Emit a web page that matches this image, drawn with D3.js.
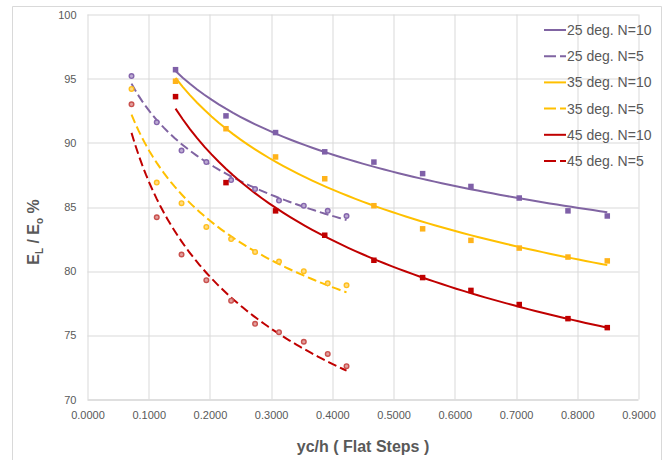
<!DOCTYPE html>
<html>
<head>
<meta charset="utf-8">
<script src="https://cdn.jsdelivr.net/npm/d3@7"></script>
<style>
  body { margin: 0; background: #fff; }
  text { font-family: "Liberation Sans", Arial, sans-serif; }
</style>
</head>
<body>
<div id="chart"></div>
<script>
// data
var xN10 = [0.1438, 0.2262, 0.3072, 0.3875, 0.4678, 0.5474, 0.6263, 0.7052, 0.7848, 0.8490];
var xN5  = [0.0719, 0.1131, 0.1536, 0.1941, 0.2346, 0.2737, 0.3128, 0.3533, 0.3924, 0.4231];

var deg25N10 = [95.7, 92.1, 90.8, 89.3, 88.5, 87.6, 86.6, 85.7, 84.7, 84.3];
var deg25N5  = [95.2, 91.6, 89.4, 88.5, 87.1, 86.4, 85.5, 85.1, 84.7, 84.3];
var deg35N10 = [94.8, 91.1, 88.9, 87.2, 85.1, 83.3, 82.4, 81.8, 81.1, 80.8];
var deg35N5  = [94.2, 86.9, 85.3, 83.45, 82.5, 81.5, 80.75, 80.0, 79.05, 78.9];
var deg45N10 = [93.6, 86.9, 84.7, 82.8, 80.85, 79.5, 78.5, 77.4, 76.3, 75.6];
var deg45N5  = [93.0, 84.2, 81.3, 79.3, 77.7, 75.9, 75.25, 74.5, 73.55, 72.6];

var seriesNames = ["25 deg. N=10", "25 deg. N=5", "35 deg. N=10", "35 deg. N=5", "45 deg. N=10", "45 deg. N=5"];

var xTicks = [0, 0.1, 0.2, 0.3, 0.4, 0.5, 0.6, 0.7, 0.8, 0.9];
var yTicks = [70, 75, 80, 85, 90, 95, 100];

// styles
var series = [
  { name: seriesNames[0], xs: xN10, ys: deg25N10, line: "#8064a2", mark: "#7f60a8", dash: null, shape: "square" },
  { name: seriesNames[1], xs: xN5,  ys: deg25N5,  line: "#8064a2", mark: "#8566ad", dash: "9,4", shape: "circle" },
  { name: seriesNames[2], xs: xN10, ys: deg35N10, line: "#ffc000", mark: "#ffb31a", dash: null, shape: "square" },
  { name: seriesNames[3], xs: xN5,  ys: deg35N5,  line: "#ffc000", mark: "#ffbf1f", dash: "9,4", shape: "circle" },
  { name: seriesNames[4], xs: xN10, ys: deg45N10, line: "#c00000", mark: "#c00000", dash: null, shape: "square" },
  { name: seriesNames[5], xs: xN5,  ys: deg45N5,  line: "#c00000", mark: "#c9504d", dash: "9,4", shape: "circle" }
];

var W = 670, H = 460;
var margin = { top: 14.5, right: 31.5, bottom: 60.5, left: 87.5 };
var width = W - margin.left - margin.right;
var height = H - margin.top - margin.bottom;

var svg = d3.select("#chart").append("svg")
    .attr("width", W)
    .attr("height", H);

// outer chart border
svg.append("path")
  .attr("d", "M12.5," + H + " L12.5,6.5 L661.5,6.5 L661.5," + H)
  .attr("fill", "none")
  .attr("stroke", "#d9d9d9")
  .attr("stroke-width", 1);

var g = svg.append("g")
  .attr("transform", "translate(" + margin.left + "," + margin.top + ")");

var x = d3.scaleLinear().domain([0, 0.9]).range([0, width]);
var y = d3.scaleLinear().domain([70, 100]).range([height, 0]);

// gridlines
g.selectAll(".hgrid")
  .data(yTicks)
  .enter().append("line")
  .attr("x1", 0).attr("x2", width)
  .attr("y1", function(d) { return Math.round(y(d)) + 0.5; })
  .attr("y2", function(d) { return Math.round(y(d)) + 0.5; })
  .attr("stroke", function(d) { return d == 70 ? "#bfbfbf" : "#d9d9d9"; })
  .attr("stroke-width", 1);

g.selectAll(".vgrid")
  .data(xTicks)
  .enter().append("line")
  .attr("y1", 0).attr("y2", height)
  .attr("x1", function(d) { return Math.round(x(d)) + 0.5; })
  .attr("x2", function(d) { return Math.round(x(d)) + 0.5; })
  .attr("stroke", "#d9d9d9")
  .attr("stroke-width", 1);

// axes (labels only, excel style)
var xAxis = d3.axisBottom(x).tickValues(xTicks).tickSize(0).tickPadding(12)
  .tickFormat(d3.format(".4f"));
var yAxis = d3.axisLeft(y).tickValues(yTicks).tickSize(0).tickPadding(11)
  .tickFormat(d3.format("d"));

var gx = g.append("g").attr("transform", "translate(0," + height + ")").call(xAxis);
var gy = g.append("g").call(yAxis);
[gx, gy].forEach(function(a) {
  a.select(".domain").remove();
  a.selectAll("text")
    .attr("fill", "#595959")
    .style("font-size", "11px")
    .style("font-family", "'Liberation Sans', Arial, sans-serif");
});

// power trendline: ln y = ln a + b ln x
function powerFit(xs, ys) {
  var lx = xs.map(Math.log), ly = ys.map(Math.log);
  var mx = d3.mean(lx), my = d3.mean(ly);
  var sxy = d3.sum(lx, function(v, i) { return (v - mx) * (ly[i] - my); });
  var sxx = d3.sum(lx, function(v) { return (v - mx) * (v - mx); });
  var b = sxy / sxx;
  var a = Math.exp(my - b * mx);
  return function(v) { return a * Math.pow(v, b); };
}

var line = d3.line()
  .x(function(d) { return x(d[0]); })
  .y(function(d) { return y(d[1]); });

series.forEach(function(s) {
  var f = powerFit(s.xs, s.ys);
  var lo = d3.min(s.xs), hi = d3.max(s.xs);
  var pts = d3.range(0, 61).map(function(i) {
    var v = lo + (hi - lo) * i / 60;
    return [v, f(v)];
  });
  g.append("path")
    .datum(pts)
    .attr("d", line)
    .attr("fill", "none")
    .attr("stroke", s.line)
    .attr("stroke-width", 2)
    .attr("stroke-dasharray", s.dash);
});

// markers on top
series.forEach(function(s) {
  var pts = s.xs.map(function(v, i) { return [v, s.ys[i]]; });
  if (s.shape == "square") {
    g.selectAll(null)
      .data(pts)
      .enter().append("rect")
      .attr("x", function(d) { return x(d[0]) - 2.75; })
      .attr("y", function(d) { return y(d[1]) - 2.75; })
      .attr("width", 5.5)
      .attr("height", 5.5)
      .attr("fill", s.mark);
  } else {
    g.selectAll(null)
      .data(pts)
      .enter().append("circle")
      .attr("cx", function(d) { return x(d[0]); })
      .attr("cy", function(d) { return y(d[1]); })
      .attr("r", 2.3)
      .attr("fill", d3.interpolateRgb(s.mark, "#fff")(0.45))
      .attr("stroke", s.mark)
      .attr("stroke-width", 1.4);
  }
});

// axis titles
svg.append("text")
  .attr("x", margin.left + width / 2)
  .attr("y", 452)
  .attr("text-anchor", "middle")
  .attr("fill", "#595959")
  .style("font-size", "16px")
  .style("font-weight", "bold")
  .text("yc/h ( Flat Steps )");

var yt = svg.append("text")
  .attr("transform", "translate(39,232) rotate(-90)")
  .attr("text-anchor", "middle")
  .attr("fill", "#595959")
  .style("font-size", "16px")
  .style("font-weight", "bold");
yt.append("tspan").text("E");
yt.append("tspan").attr("dy", 4).style("font-size", "10px").text("L");
yt.append("tspan").attr("dy", -4).text(" / E");
yt.append("tspan").attr("dy", 4).style("font-size", "10px").text("o");
yt.append("tspan").attr("dy", -4).text(" %");

// legend
var legend = svg.append("g");
var item = legend.selectAll("g")
  .data(series)
  .enter().append("g")
  .attr("transform", function(d, i) { return "translate(544," + (30 + i * 26.2) + ")"; });

item.append("line")
  .attr("x1", 0).attr("x2", 22)
  .attr("y1", 0).attr("y2", 0)
  .attr("stroke", function(d) { return d.line; })
  .attr("stroke-width", 2)
  .attr("stroke-dasharray", function(d) { return d.dash ? "12,4" : null; });

item.append("text")
  .attr("x", 23)
  .attr("y", 5)
  .attr("fill", "#595959")
  .style("font-size", "14px")
  .text(function(d) { return d.name; });
</script>
</body>
</html>
